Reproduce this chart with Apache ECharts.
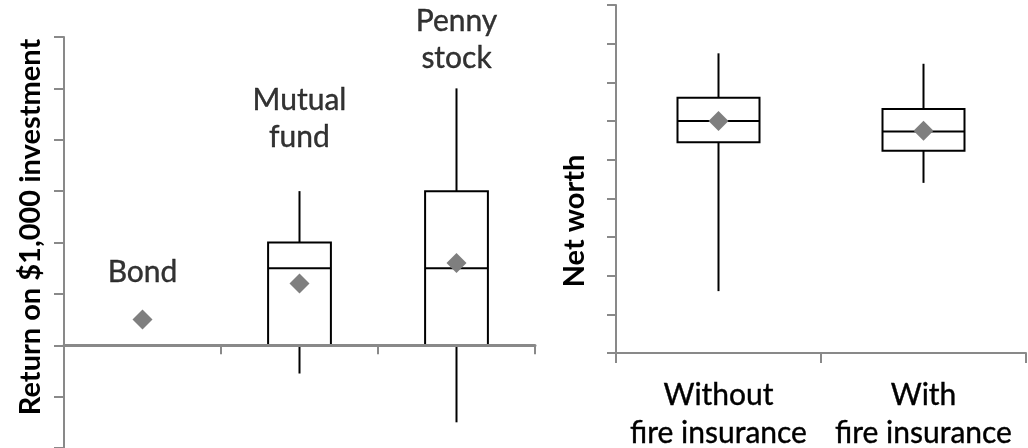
<!DOCTYPE html>
<html>
<head>
<meta charset="utf-8">
<script src="https://cdn.jsdelivr.net/npm/echarts@6/dist/echarts.min.js"></script>
<style>
  html, body { margin: 0; padding: 0; background: #fff; }
  #chart { width: 1028px; height: 448px; }
</style>
</head>
<body>
<div id="chart"></div>
<script>
// left panel: return on $1,000 investment
const investCats = ['Bond', 'Mutual fund', 'Penny stock'];
const investLabels = ['Bond', 'Mutual\nfund', 'Penny\nstock'];
const investMin = [null, -0.55, -1.5];
const investQ1 = [null, 0, 0];
const investMedian = [null, 1.5, 1.5];
const investQ3 = [null, 2, 3];
const investMax = [null, 3, 5];
const investMean = [0.5, 1.2, 1.6];
const investLabelAt = [1.42, 4.4, 5.95];

// right panel: net worth
const fireCats = ['Without\nfire insurance', 'With\nfire insurance'];
const fireMin = [1.6, 4.4];
const fireQ1 = [5.45, 5.23];
const fireMedian = [6.0, 5.73];
const fireQ3 = [6.6, 6.31];
const fireMax = [7.75, 7.48];
const fireMean = [6.0, 5.75];

const FONT = 'Lato, "Open Sans", sans-serif';
const AXIS_GRAY = '#898989';
const MEAN_GRAY = '#7f7f7f';

function boxRows(mins, q1s, meds, q3s, maxs) {
  return mins.map((v, i) => [i, v, q1s[i], meds[i], q3s[i], maxs[i]])
    .filter(r => r[1] != null);
}

// box without whisker caps
function renderBox(params, api) {
  const i = api.value(0);
  const lo = api.coord([i, api.value(1)]);
  const q1 = api.coord([i, api.value(2)]);
  const med = api.coord([i, api.value(3)]);
  const q3 = api.coord([i, api.value(4)]);
  const hi = api.coord([i, api.value(5)]);
  const w = api.size([1, 0])[0] * 0.4;
  const x = lo[0];
  const line = { stroke: '#000', lineWidth: 2 };
  return {
    type: 'group',
    children: [
      { type: 'line', shape: { x1: x, y1: hi[1], x2: x, y2: q3[1] }, style: line },
      { type: 'line', shape: { x1: x, y1: q1[1], x2: x, y2: lo[1] }, style: line },
      { type: 'rect', shape: { x: x - w / 2, y: q3[1], width: w, height: q1[1] - q3[1] },
        style: { fill: '#fff', stroke: '#000', lineWidth: 2 } },
      { type: 'line', shape: { x1: x - w / 2, y1: med[1], x2: x + w / 2, y2: med[1] }, style: line }
    ]
  };
}

const chart = echarts.init(document.getElementById('chart'));

chart.setOption({
  animation: false,
  grid: [
    { left: 64, top: 37, width: 471, height: 411, outerBoundsMode: 'none' },
    { left: 616, top: 5, width: 410, height: 348, outerBoundsMode: 'none' }
  ],
  xAxis: [
    {
      type: 'category', gridIndex: 0, data: investCats, z: 3,
      axisLine: { onZero: true, lineStyle: { color: AXIS_GRAY, width: 3 } },
      axisTick: { show: true, length: 9, lineStyle: { color: AXIS_GRAY, width: 2 } },
      axisLabel: { show: false }
    },
    {
      type: 'category', gridIndex: 1, data: fireCats,
      axisLine: { lineStyle: { color: AXIS_GRAY, width: 2 } },
      axisTick: { show: true, length: 10, lineStyle: { color: AXIS_GRAY, width: 2 } },
      axisLabel: {
        interval: 0, color: '#000', fontFamily: FONT, fontSize: 30, lineHeight: 38, margin: 23,
        textBorderColor: '#000', textBorderWidth: 0.4
      }
    }
  ],
  yAxis: [
    {
      type: 'value', gridIndex: 0, min: -2, max: 6, interval: 1,
      axisLine: { show: true, lineStyle: { color: AXIS_GRAY, width: 2 } },
      axisTick: { show: true, length: 10, lineStyle: { color: AXIS_GRAY, width: 2 } },
      axisLabel: { show: false },
      splitLine: { show: false }
    },
    {
      type: 'value', gridIndex: 1, min: 0, max: 9, interval: 1,
      axisLine: { show: true, lineStyle: { color: AXIS_GRAY, width: 2 } },
      axisTick: { show: true, length: 9, lineStyle: { color: AXIS_GRAY, width: 2 } },
      axisLabel: { show: false },
      splitLine: { show: false }
    }
  ],
  graphic: [
    {
      type: 'text', x: 31, y: 227, rotation: Math.PI / 2,
      style: { text: 'Return on $1,000 investment', font: 'bold 29px ' + FONT, fill: '#000',
        align: 'center', verticalAlign: 'middle' }
    },
    {
      type: 'text', x: 575, y: 221, rotation: Math.PI / 2,
      style: { text: 'Net worth', font: 'bold 29px ' + FONT, fill: '#000',
        align: 'center', verticalAlign: 'middle' }
    }
  ],
  series: [
    {
      type: 'custom', xAxisIndex: 0, yAxisIndex: 0, z: 2,
      renderItem: renderBox,
      data: boxRows(investMin, investQ1, investMedian, investQ3, investMax)
    },
    {
      type: 'scatter', xAxisIndex: 0, yAxisIndex: 0, z: 5,
      symbol: 'diamond', symbolSize: 20,
      itemStyle: { color: MEAN_GRAY, opacity: 1 },
      data: investMean.map((v, i) => [i, v])
    },
    {
      type: 'scatter', xAxisIndex: 0, yAxisIndex: 0, z: 5,
      symbolSize: 0, silent: true,
      label: {
        show: true, position: 'inside', color: '#000', fontFamily: FONT,
        fontSize: 30, lineHeight: 37, align: 'center',
        textBorderColor: '#000', textBorderWidth: 0.4,
        formatter: p => investLabels[p.dataIndex]
      },
      data: investLabelAt.map((v, i) => [i, v])
    },
    {
      type: 'custom', xAxisIndex: 1, yAxisIndex: 1, z: 2,
      renderItem: renderBox,
      data: boxRows(fireMin, fireQ1, fireMedian, fireQ3, fireMax)
    },
    {
      type: 'scatter', xAxisIndex: 1, yAxisIndex: 1, z: 5,
      symbol: 'diamond', symbolSize: 20,
      itemStyle: { color: MEAN_GRAY, opacity: 1 },
      data: fireMean.map((v, i) => [i, v])
    }
  ]
});
</script>
</body>
</html>
